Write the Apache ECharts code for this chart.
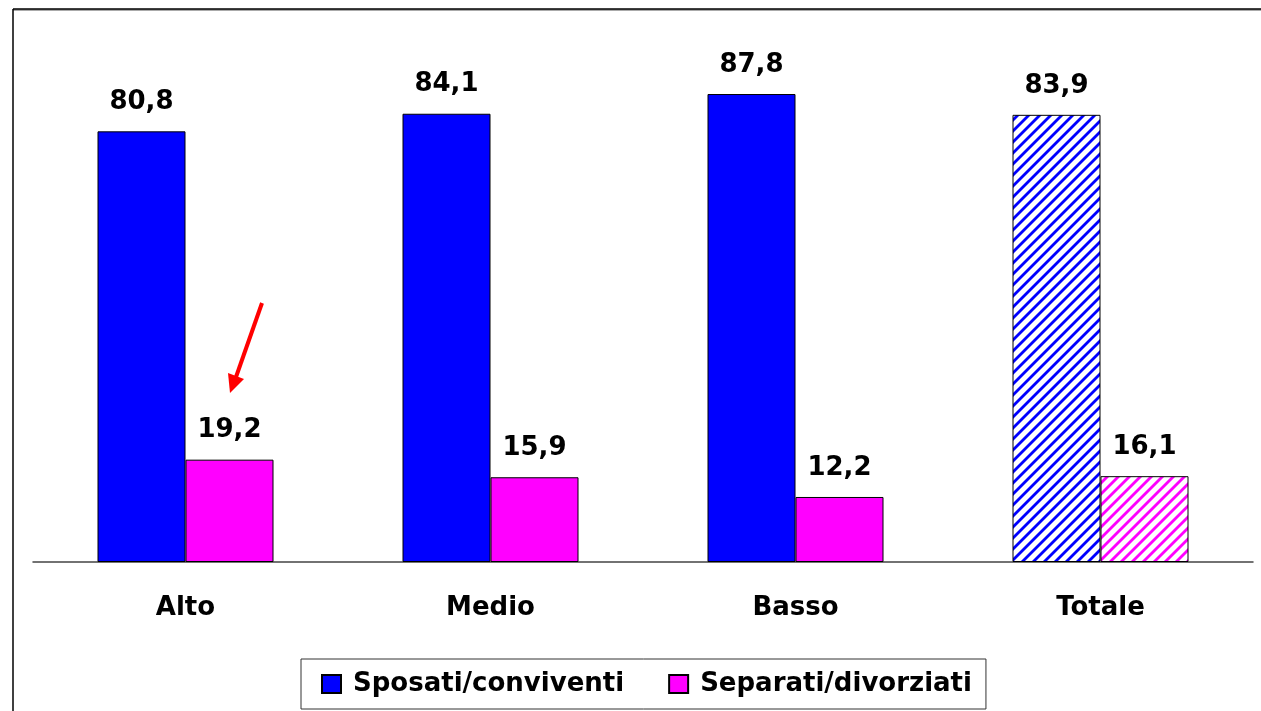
<!DOCTYPE html>
<html>
<head>
  <meta charset="UTF-8">
  <title>Sposati / Separati</title>
  <style>
    html, body { margin: 0; padding: 0; background: #fff; }
    #chart { width: 1261px; height: 711px; }
  </style>
  <script src="https://cdn.jsdelivr.net/npm/echarts@6/dist/echarts.min.js"></script>
</head>
<body>
<div id="chart"></div>
<script>
  var categories = ['Alto', 'Medio', 'Basso', 'Totale'];
  var sposati = [80.8, 84.1, 87.8, 83.9];
  var separati = [19.2, 15.9, 12.2, 16.1];

  var FONT = 'DejaVu Sans';

  // diagonal stripes for the "Totale" bars
  function stripes(color) {
    var s = 11;
    var c = document.createElement('canvas');
    c.width = s;
    c.height = s;
    var ctx = c.getContext('2d');
    ctx.fillStyle = '#fff';
    ctx.fillRect(0, 0, s, s);
    ctx.strokeStyle = color;
    ctx.lineWidth = 2.8;
    [0, s, 2 * s].forEach(function (k) {
      ctx.beginPath();
      ctx.moveTo(k + 2, -2);
      ctx.lineTo(k - s - 2, s + 2);
      ctx.stroke();
    });
    return { image: c, repeat: 'repeat' };
  }

  function withTotal(values, color) {
    return values.map(function (v, i) {
      if (categories[i] === 'Totale') {
        return { value: v, itemStyle: { color: stripes(color) } };
      }
      return v;
    });
  }

  var labelStyle = {
    show: true,
    position: 'top',
    distance: 16,
    color: '#000',
    fontFamily: FONT,
    fontWeight: 'bold',
    fontSize: 26,
    formatter: function (p) { return p.value.toFixed(1).replace('.', ','); }
  };

  var chart = echarts.init(document.getElementById('chart'));
  chart.setOption({
    animation: false,
    backgroundColor: '#fff',
    grid: { left: 33, right: 8, top: 29, bottom: 149 },
    xAxis: {
      type: 'category',
      data: categories,
      axisTick: { show: false },
      axisLine: { lineStyle: { color: '#444', width: 1.5 } },
      axisLabel: {
        margin: 33,
        color: '#000',
        fontFamily: FONT,
        fontWeight: 'bold',
        fontSize: 26
      }
    },
    yAxis: { type: 'value', min: 0, max: 100, show: false },
    legend: {
      left: 301,
      top: 659,
      padding: [12, 14, 12, 20],
      itemWidth: 19,
      itemHeight: 18,
      itemGap: 44,
      icon: 'rect',
      borderColor: '#333',
      borderWidth: 1,
      textStyle: {
        color: '#000',
        fontFamily: FONT,
        fontWeight: 'bold',
        fontSize: 26,
        lineHeight: 24,
        padding: [0, 0, 0, 7]
      }
    },
    series: [{
      name: 'Sposati/conviventi',
      type: 'bar',
      barWidth: 88,
      barGap: '0%',
      itemStyle: { color: '#0000ff', borderColor: '#000', borderWidth: 1 },
      label: labelStyle,
      data: withTotal(sposati, '#0000ff')
    }, {
      name: 'Separati/divorziati',
      type: 'bar',
      barWidth: 88,
      barGap: '0%',
      itemStyle: { color: '#ff00ff', borderColor: '#000', borderWidth: 1 },
      label: labelStyle,
      data: withTotal(separati, '#ff00ff')
    }],
    graphic: [
      // frame (cropped)
      { type: 'line', shape: { x1: 13, y1: 10, x2: 1261, y2: 10 }, style: { stroke: '#aaa', lineWidth: 2 } },
      { type: 'line', shape: { x1: 13, y1: 9, x2: 1261, y2: 9 }, style: { stroke: '#000', lineWidth: 1.5 } },
      { type: 'line', shape: { x1: 13, y1: 9, x2: 13, y2: 711 }, style: { stroke: '#000', lineWidth: 1.5 } },
      // red arrow
      { type: 'line', shape: { x1: 262, y1: 303, x2: 236, y2: 377 }, style: { stroke: '#ff0000', lineWidth: 4 } },
      { type: 'polygon', shape: { points: [[230, 393], [244, 379], [228, 373]] }, style: { fill: '#ff0000' } }
    ]
  });
</script>
</body>
</html>
